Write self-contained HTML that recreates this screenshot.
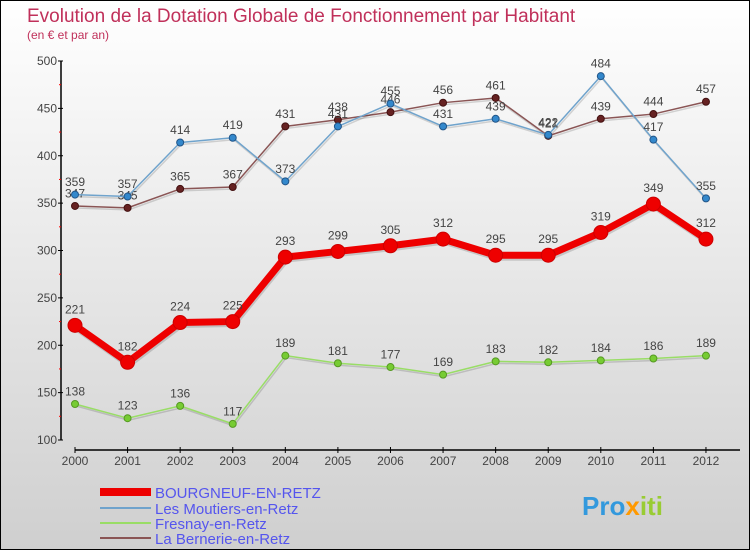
<!DOCTYPE html>
<html><head><meta charset="utf-8"><style>
html,body{margin:0;padding:0}
body{width:750px;height:550px;overflow:hidden;font-family:"Liberation Sans",sans-serif}
</style></head><body>
<svg id="chart" width="750" height="550" xmlns="http://www.w3.org/2000/svg">
<defs><linearGradient id="bg" x1="0" y1="0" x2="0" y2="1"><stop offset="0" stop-color="#ffffff"/><stop offset="1" stop-color="#cfcfcf"/></linearGradient></defs>
<rect x="0.5" y="0.5" width="749" height="549" fill="url(#bg)" stroke="#000" stroke-width="1"/>
<text x="27" y="22" font-size="19" fill="#c0305a">Evolution de la Dotation Globale de Fonctionnement par Habitant</text>
<text x="27" y="39" font-size="12" fill="#c0305a">(en € et par an)</text>
<g id="axes"></g><g id="series"></g>
<g font-size="15" fill="#5555ee">
<rect x="100" y="488" width="51" height="8" fill="#e00"/>
<text x="155" y="498">BOURGNEUF-EN-RETZ</text>
<rect x="100" y="507" width="51" height="2" fill="#6fa3cc"/>
<text x="155" y="514">Les Moutiers-en-Retz</text>
<rect x="100" y="522" width="51" height="2" fill="#99dd66"/>
<text x="155" y="529">Fresnay-en-Retz</text>
<rect x="100" y="537" width="51" height="2" fill="#8a5555"/>
<text x="155" y="544">La Bernerie-en-Retz</text>
</g>
<g font-size="26" font-weight="bold">
<text x="582" y="515" fill="#3399dd">Pro<tspan fill="#ff9900">x</tspan><tspan fill="#99cc33">iti</tspan></text>
</g>
</svg>
<script>
const years=[2000,2001,2002,2003,2004,2005,2006,2007,2008,2009,2010,2011,2012];
const bourgneuf=[221,182,224,225,293,299,305,312,295,295,319,349,312];
const moutiers=[359,357,414,419,373,431,455,431,439,422,484,417,355];
const fresnay=[138,123,136,117,189,181,177,169,183,182,184,186,189];
const bernerie=[347,345,365,367,431,438,446,456,461,421,439,444,457];
const yTicks=[100,150,200,250,300,350,400,450,500];
const NS="http://www.w3.org/2000/svg";
function X(i){return 75+i*52.58;}
function Y(v){return 440-(v-100)*0.9475;}
function mk(tag,attrs,parent){const e=document.createElementNS(NS,tag);for(const k in attrs)e.setAttribute(k,attrs[k]);parent.appendChild(e);return e;}
const axes=document.getElementById('axes');
let a=mk('line',{x1:61,y1:Y(500),x2:61,y2:Y(100),stroke:'#000','stroke-width':1.5},axes);


yTicks.forEach(v=>{
 let t=mk('line',{x1:58,x2:63,y1:Y(v),y2:Y(v),stroke:'#000'},axes);
 
 
 let l=mk('text',{x:57,y:Y(v)+4,'text-anchor':'end','font-size':12,fill:'#444'},axes);l.textContent=v;
 
 
 if(v<500){let m=mk('line',{x1:59,x2:61,y1:Y(v+25),y2:Y(v+25),stroke:'#f00'},axes);
 
 }
});
let xa=mk('line',{x1:75,y1:450,x2:740,y2:450,stroke:'#000','stroke-width':1.5},axes);


years.forEach((y,i)=>{
 let t=mk('line',{x1:X(i),x2:X(i),y1:447,y2:453,stroke:'#000'},axes);
 
 
 let l=mk('text',{x:X(i),y:465,'text-anchor':'middle','font-size':12,fill:'#444'},axes);l.textContent=y;
 
 
});
const sg=document.getElementById('series');
function series(name,data,color,dot,w,r,stroke){
 const g=mk('g',{},sg);
 
 
 const pts=data.map((v,i)=>X(i)+','+Y(v)).join(' ');
 let sh=mk('polyline',{points:data.map((v,i)=>(X(i)+1)+','+(Y(v)+2)).join(' '),fill:'none',stroke:'rgba(0,0,0,0.15)','stroke-width':w},g);
 let pl=mk('polyline',{points:pts,fill:'none',stroke:color,'stroke-width':w,'stroke-linejoin':'round'},g);
 
 
 data.forEach((v,i)=>{
  let c=mk('circle',{cx:X(i),cy:Y(v),r:r,fill:dot,stroke:stroke,'stroke-width':1},g);
  
  
  let t=mk('text',{x:X(i),y:Y(v)-(r+5),'text-anchor':'middle','font-size':12,fill:'#444'},g);t.textContent=v;
  
  
 });
}
series('fresnay',fresnay,'#99dd66','#77cc33',1.5,3.5,'#559922');
series('bernerie',bernerie,'#8a5555','#662222',1.5,3.5,'#441111');
series('moutiers',moutiers,'#6fa3cc','#3388cc',1.5,3.5,'#225588');
series('bourgneuf',bourgneuf,'#ee0000','#ee0000',7,7,'#cc0000');
</script>
</body></html>
